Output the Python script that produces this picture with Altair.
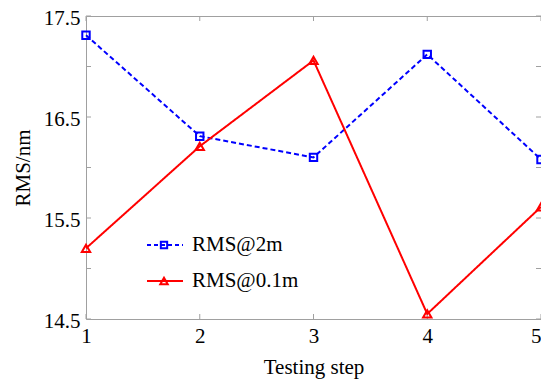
import altair as alt
import pandas as pd

steps = [1, 2, 3, 4, 5]
rms_2m = [17.31, 16.31, 16.10, 17.12, 16.08]
rms_01m = [15.20, 16.21, 17.06, 14.55, 15.61]
series_names = ["RMS@2m", "RMS@0.1m"]
y_ticks = [14.5, 15.0, 15.5, 16.0, 16.5, 17.0, 17.5]
x_ticks = [1, 2, 3, 4, 5]

W, H = 455, 303
FONT = "Liberation Serif"
GRAY = "#a0a0a0"
BLUE = "#0000ff"
RED = "#ff0000"

df_b = pd.DataFrame({"step": steps, "rms": rms_2m, "series": series_names[0]})
df_r = pd.DataFrame({"step": steps, "rms": rms_01m, "series": series_names[1]})

xs = alt.Scale(domain=[1, 5], nice=False, zero=False)
ys = alt.Scale(domain=[14.5, 17.5], nice=False, zero=False)

x_axis = alt.Axis(values=x_ticks, format="d", title="Testing step", ticks=False, tickSize=0,
                  domain=False, grid=False, labelFont=FONT, labelFontSize=21, labelColor="black",
                  labelAlign=alt.ConditionalAxisLabelAlign(
                      condition={"test": "datum.value == 5", "value": "right"}, value="center"),
                  titleFont=FONT, titleFontSize=21, titleFontWeight="normal", titleColor="black",
                  labelPadding=6, titlePadding=10.5, labelFlush=False)
y_axis = alt.Axis(values=y_ticks, title="RMS/nm", ticks=False, tickSize=0, domain=False, grid=False,
                  labelExpr="(round(datum.value*10) % 10 == 5) ? format(datum.value, '.1f') : ''",
                  labelFont=FONT, labelFontSize=21, labelColor="black", labelOffset=2,
                  titleFont=FONT, titleFontSize=21, titleFontWeight="normal", titleColor="black",
                  labelPadding=6, titlePadding=10, labelFlush=False)

def X(field):
    return alt.X(field, scale=xs, axis=x_axis)

def Y(field):
    return alt.Y(field, scale=ys, axis=y_axis)

# inward ticks on all four sides
yt = pd.DataFrame({"v": y_ticks})
xt = pd.DataFrame({"v": x_ticks})
tick_l = alt.Chart(yt).mark_rule(color=GRAY, strokeWidth=1).encode(
    y=Y("v:Q"), x=alt.value(0), x2=alt.value(5))
tick_r = alt.Chart(yt).mark_rule(color=GRAY, strokeWidth=1).encode(
    y=Y("v:Q"), x=alt.value(W - 5), x2=alt.value(W))
tick_b = alt.Chart(xt).mark_rule(color=GRAY, strokeWidth=1).encode(
    x=X("v:Q"), y=alt.value(H), y2=alt.value(H - 5))
tick_t = alt.Chart(xt).mark_rule(color=GRAY, strokeWidth=1).encode(
    x=X("v:Q"), y=alt.value(0), y2=alt.value(5))

def series_layers(df, color, dash, shape, size):
    line = alt.Chart(df).mark_line(color=color, strokeWidth=2, strokeDash=dash).encode(
        x=X("step:Q"), y=Y("rms:Q"))
    pts = alt.Chart(df).mark_point(color=color, shape=shape, size=size, filled=False,
                                   strokeWidth=2, opacity=1).encode(
        x=X("step:Q"), y=Y("rms:Q"))
    return [line, pts]

blue_layers = series_layers(df_b, BLUE, [5, 3], "square", 55)
red_layers = series_layers(df_r, RED, [1, 0], "triangle-up", 70)

# manual legend
leg = []
for i, (name, color, dash, shape, size) in enumerate([
        (series_names[0], BLUE, [4, 3], "square", 40),
        (series_names[1], RED, [1, 0], "triangle-up", 55)]):
    ly = 229 + i * 36
    d = pd.DataFrame({"label": [name]})
    leg.append(alt.Chart(d).mark_rule(color=color, strokeWidth=2, strokeDash=dash).encode(
        x=alt.value(61), x2=alt.value(97), y=alt.value(ly)))
    leg.append(alt.Chart(d).mark_point(color=color, shape=shape, size=size, filled=False,
                                       strokeWidth=2, opacity=1).encode(
        x=alt.value(78), y=alt.value(ly)))
    leg.append(alt.Chart(d).mark_text(font=FONT, fontSize=21, align="left", baseline="middle",
                                      color="black").encode(
        x=alt.value(106), y=alt.value(ly), text="label:N"))

chart = alt.layer(tick_l, tick_r, tick_b, tick_t, *blue_layers, *red_layers, *leg).properties(
    width=W, height=H,
    autosize=alt.AutoSizeParams(type="none"),
    padding={"left": 78, "top": 8, "right": 0, "bottom": 60},
    background="white",
).configure_view(stroke=GRAY, strokeWidth=1)

chart.save("out.html", embed_options={"renderer": "svg", "actions": False})
